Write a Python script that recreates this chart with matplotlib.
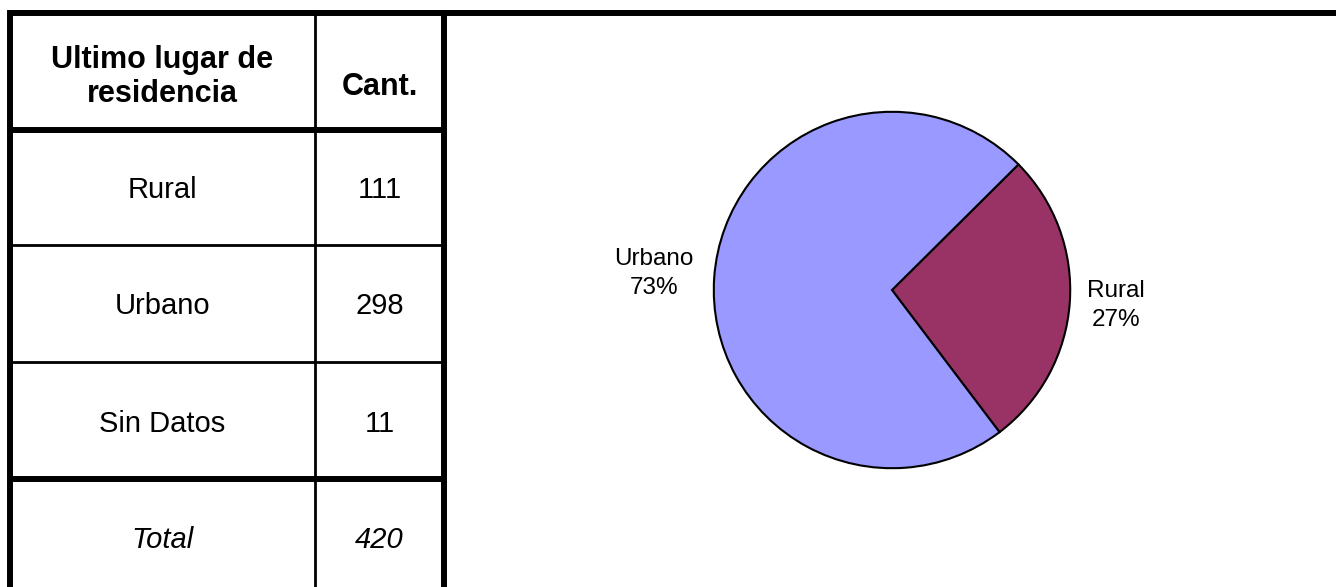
import numpy as np
import matplotlib.pyplot as plt

# --- Datos ---
categorias = ["Rural", "Urbano", "Sin Datos"]
cantidades = [111, 298, 11]
encabezado = ["Ultimo lugar de\nresidencia", "Cant."]
total_label = "Total"

# Torta: solo los casos con dato
pie_labels = ["Rural", "Urbano"]
pie_values = [111, 298]
pie_colors = ["#993366", "#9999FF"]

plt.rcParams['font.family'] = ['Liberation Sans', 'DejaVu Sans']

W, H = 1336, 587
fig = plt.figure(figsize=(W / 100, H / 100), dpi=100)
fig.patch.set_facecolor('white')

# --- Tabla (en coordenadas de pixel) ---
ax = fig.add_axes([0, 0, 1, 1])
ax.set_xlim(0, W)
ax.set_ylim(H, 0)
ax.axis('off')

thick, thin = 4.3, 2.0
x_left, x_div, x_right = 10, 315, 444
y_top = 13
row_edges = [130, 245, 362, 479, 596]

ax.plot([7, W], [y_top, y_top], color='black', lw=thick, solid_capstyle='butt')
ax.plot([x_left, x_left], [y_top, H], color='black', lw=thick, solid_capstyle='butt')
ax.plot([x_right, x_right], [y_top, H], color='black', lw=thick, solid_capstyle='butt')
ax.plot([x_div, x_div], [y_top, H], color='black', lw=thin, solid_capstyle='butt')
ax.plot([x_left, x_right], [row_edges[0]] * 2, color='black', lw=thick, solid_capstyle='butt')
ax.plot([x_left, x_right], [row_edges[1]] * 2, color='black', lw=thin, solid_capstyle='butt')
ax.plot([x_left, x_right], [row_edges[2]] * 2, color='black', lw=thin, solid_capstyle='butt')
ax.plot([x_left, x_right], [row_edges[3]] * 2, color='black', lw=thick, solid_capstyle='butt')

c1 = (x_left + x_div) / 2
c2 = (x_div + x_right) / 2
ax.text(c1, 77, encabezado[0], ha='center', va='center', fontsize=22,
        fontweight='bold', linespacing=1.15)
ax.text(c2, 87, encabezado[1], ha='center', va='center', fontsize=22,
        fontweight='bold')

for i, (cat, n) in enumerate(zip(categorias, cantidades)):
    yc = (row_edges[i] + row_edges[i + 1]) / 2 + 3
    ax.text(c1, yc, cat, ha='center', va='center', fontsize=21)
    ax.text(c2, yc, str(n), ha='center', va='center', fontsize=21)

yc = (row_edges[3] + row_edges[4]) / 2 + 2
ax.text(c1, yc, total_label, ha='center', va='center', fontsize=21, style='italic')
ax.text(c2, yc, str(sum(cantidades)), ha='center', va='center', fontsize=21, style='italic')

# --- Torta ---
cx, cy, r = 892, 290, 180
ax2 = fig.add_axes([(cx - r) / W, (H - cy - r) / H, 2 * r / W, 2 * r / H])
rural_deg = 360 * pie_values[0] / sum(pie_values)
wedges, _ = ax2.pie(pie_values, colors=pie_colors, startangle=44.8 - rural_deg,
                    counterclock=True, radius=1,
                    wedgeprops=dict(edgecolor='black', linewidth=1.5))
ax2.set_xlim(-1.01, 1.01)
ax2.set_ylim(-1.01, 1.01)
ax2.set_aspect('equal')
ax2.axis('off')

dists = [1.26, 1.34]
total_pie = sum(pie_values)
for w, lab, v, d in zip(wedges, pie_labels, pie_values, dists):
    ang = np.deg2rad((w.theta1 + w.theta2) / 2)
    pct = round(100 * v / total_pie)
    ax2.text(d * np.cos(ang), d * np.sin(ang), f"{lab}\n{pct}%",
             ha='center', va='center', fontsize=17.5, linespacing=1.4)

fig.savefig("out.png", dpi=100, facecolor='white')
